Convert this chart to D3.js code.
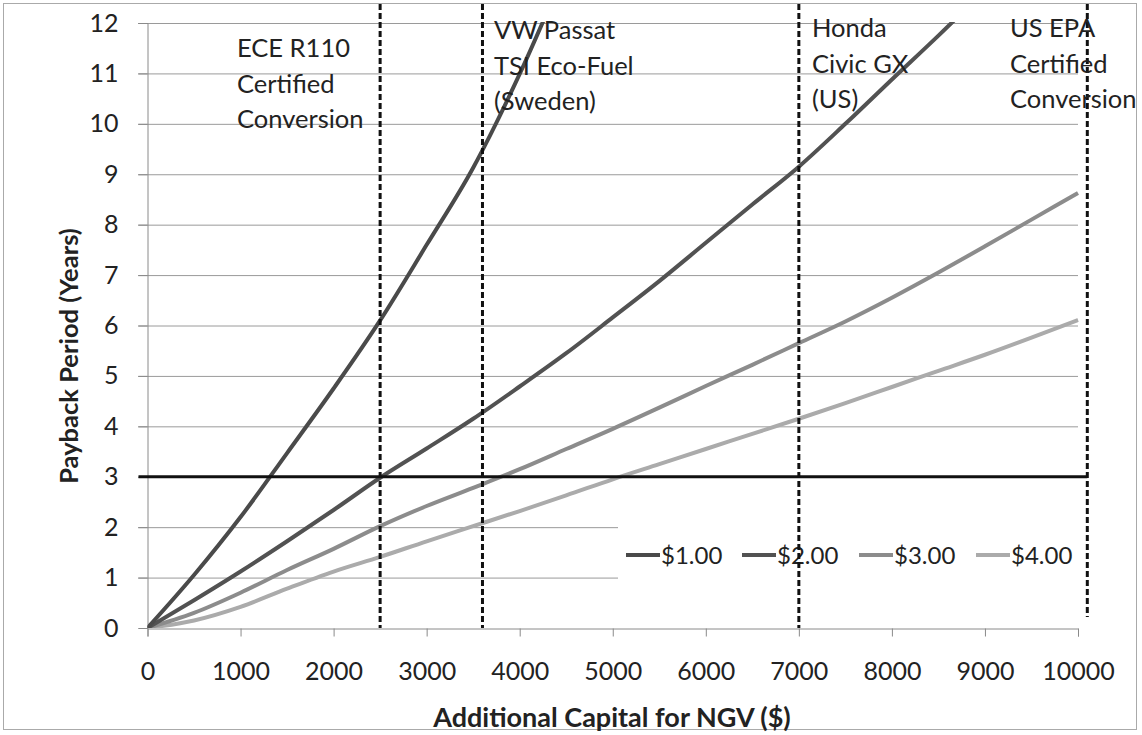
<!DOCTYPE html>
<html>
<head>
<meta charset="utf-8">
<script src="https://cdn.jsdelivr.net/npm/d3@7"></script>
<style>
  body { margin: 0; background: #fff; }
  text { font-family: Lato, "Open Sans", sans-serif; fill: #222; }
</style>
</head>
<body>
<svg id="chart" width="1142" height="735"></svg>
<script>
// capital ($) at which each series was read
const capital = [0, 500, 1000, 1500, 2000, 2500, 3000, 3500, 4000, 4500, 5000,
  5500, 6000, 6500, 7000, 7500, 8000, 8500, 9000, 9500, 10000];

// payback (years) per fuel price difference, null = off the chart
const pay1 = [0, 1.05, 2.2, 3.47, 4.75, 6.1, 7.6, 9.13, 10.99, 13.1, null,
  null, null, null, null, null, null, null, null, null, null];
const pay2 = [0, 0.55, 1.12, 1.72, 2.34, 2.98, 3.56, 4.15, 4.79, 5.45, 6.16,
  6.88, 7.64, 8.4, 9.15, 10.0, 10.88, 11.75, 12.65, null, null];
const pay3 = [0, 0.3, 0.7, 1.15, 1.57, 2.02, 2.42, 2.78, 3.15, 3.55, 3.95,
  4.37, 4.8, 5.22, 5.65, 6.08, 6.55, 7.05, 7.57, 8.1, 8.63];
const pay4 = [0, 0.15, 0.42, 0.78, 1.12, 1.41, 1.72, 2.02, 2.32, 2.63, 2.95,
  3.25, 3.55, 3.85, 4.15, 4.46, 4.78, 5.1, 5.42, 5.76, 6.11];

const seriesNames = ['$1.00', '$2.00', '$3.00', '$4.00'];
const seriesColors = ['#4a4a4a', '#525252', '#8c8c8c', '#ababab'];

const xTicks = [0, 1000, 2000, 3000, 4000, 5000, 6000, 7000, 8000, 9000, 10000];
const yTicks = [0, 1, 2, 3, 4, 5, 6, 7, 8, 9, 10, 11, 12];

// vehicle / certification markers
const markerX = [2500, 3600, 7000, 10100];
const markerLabels = [
  ['ECE R110', 'Certified', 'Conversion'],
  ['VW Passat', 'TSI Eco-Fuel', '(Sweden)'],
  ['Honda', 'Civic GX', '(US)'],
  ['US EPA', 'Certified', 'Conversion']
];
const targetYears = 3;

const svg = d3.select('#chart');

const x = d3.scaleLinear().domain([0, 10000]).range([147.5, 1078]);
const y = d3.scaleLinear().domain([0, 12]).range([628, 23]);

// outer frame
svg.append('rect')
  .attr('x', 3.5).attr('y', 3.5)
  .attr('width', 1133).attr('height', 726)
  .style('fill', 'none')
  .style('stroke', '#aaa');

// gridlines
svg.append('g')
  .selectAll('line')
  .data(yTicks.filter(d => d > 0))
  .enter()
  .append('line')
  .attr('x1', 138)
  .attr('x2', x(10000))
  .attr('y1', d => y(d) + 0.5)
  .attr('y2', d => y(d) + 0.5)
  .style('stroke', '#9a9a9a')
  .style('stroke-width', 1);

// axes
const xAxis = svg.append('g')
  .attr('transform', `translate(0,${y(0) + 0.5})`)
  .call(d3.axisBottom(x).tickValues(xTicks).tickSize(8).tickPadding(26).tickFormat(d3.format('d')));
xAxis.select('.domain').style('stroke', '#8a8a8a');
xAxis.selectAll('.tick line').style('stroke', '#8a8a8a');
xAxis.selectAll('text')
  .style('font-size', '25px')
  .style('font-family', 'Lato, sans-serif')
  .style('fill', '#222');

const yAxis = svg.append('g')
  .attr('transform', `translate(${x(0)},0)`)
  .call(d3.axisLeft(y).tickValues(yTicks).tickSize(9).tickPadding(20));
yAxis.select('.domain').style('stroke', '#8a8a8a');
yAxis.selectAll('.tick line').style('stroke', '#8a8a8a');
yAxis.selectAll('text')
  .style('font-size', '25px')
  .style('font-family', 'Lato, sans-serif')
  .style('fill', '#222');

// legend background hides the lower gridlines
const legend = svg.append('g');
legend.append('rect')
  .attr('x', 618).attr('y', 505)
  .attr('width', x(10000) - 618).attr('height', 96)
  .style('fill', '#fff');

// series
const line = d3.line()
  .defined(d => d[1] !== null)
  .x(d => x(d[0]))
  .y(d => y(d[1]))
  .curve(d3.curveMonotoneX);

svg.append('clipPath').attr('id', 'plot-clip')
  .append('rect')
  .attr('x', x(0)).attr('y', y(12) - 1)
  .attr('width', x(10000) - x(0) + 2).attr('height', y(0) - y(12) + 1);

const allSeries = [pay1, pay2, pay3, pay4];
const gLines = svg.append('g').attr('clip-path', 'url(#plot-clip)');
allSeries.slice().reverse().forEach((vals, j) => {
  const i = allSeries.length - 1 - j;
  gLines.append('path')
    .datum(capital.map((c, k) => [c, vals[k]]))
    .attr('d', line)
    .style('fill', 'none')
    .style('stroke', seriesColors[i])
    .style('stroke-width', 4);
});

// 3-year target line
svg.append('line')
  .attr('x1', x(0) - 9).attr('x2', x(10100))
  .attr('y1', y(targetYears)).attr('y2', y(targetYears))
  .style('stroke', '#111')
  .style('stroke-width', 3);

// dashed markers
svg.append('g')
  .selectAll('line')
  .data(markerX)
  .enter()
  .append('line')
  .attr('x1', d => x(d)).attr('x2', d => x(d))
  .attr('y1', 4)
  .attr('y2', (d, i) => i === 3 ? y(0.22) : y(0))
  .style('stroke', '#111')
  .style('stroke-width', 3)
  .style('stroke-dasharray', '6,3');

// marker labels
const labelPos = [
  {x: 237, y: 57},
  {x: 494, y: 39},
  {x: 812, y: 37},
  {x: 1010, y: 37}
];
markerLabels.forEach((lines, i) => {
  const t = svg.append('text')
    .attr('x', labelPos[i].x)
    .attr('y', labelPos[i].y)
    .style('font-size', '25.5px');
  lines.forEach((s, k) => {
    t.append('tspan')
      .attr('x', labelPos[i].x)
      .attr('dy', k === 0 ? 0 : 35.5)
      .text(s);
  });
});

// legend entries
const legendX = [626, 742, 859, 976];
seriesNames.forEach((name, i) => {
  legend.append('line')
    .attr('x1', legendX[i]).attr('x2', legendX[i] + 34)
    .attr('y1', 555).attr('y2', 555)
    .style('stroke', seriesColors[i])
    .style('stroke-width', 4);
  legend.append('text')
    .attr('x', legendX[i] + 35)
    .attr('y', 564)
    .style('font-size', '24px')
    .text(name);
});

// axis titles
svg.append('text')
  .attr('x', 612)
  .attr('y', 727)
  .style('text-anchor', 'middle')
  .style('font-size', '27px')
  .style('font-weight', 'bold')
  .text('Additional Capital for NGV ($)');

svg.append('text')
  .attr('transform', 'translate(78,356) rotate(-90)')
  .style('text-anchor', 'middle')
  .style('font-size', '25.5px')
  .style('font-weight', 'bold')
  .text('Payback Period (Years)');
</script>
</body>
</html>
